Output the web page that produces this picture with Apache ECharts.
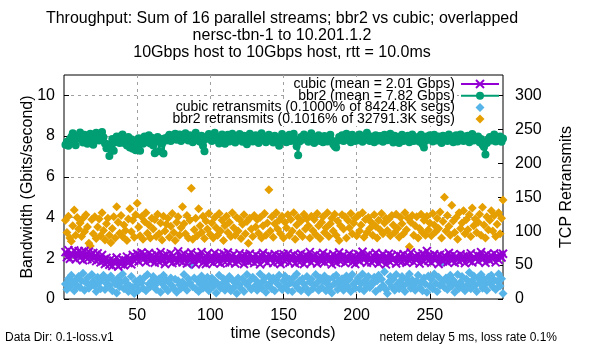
<!DOCTYPE html>
<html><head><meta charset="utf-8">
<script src="https://cdn.jsdelivr.net/npm/echarts@6/dist/echarts.min.js"></script>
<style>html,body{margin:0;padding:0;background:#fff}#c{width:600px;height:350px}</style>
</head><body><div id="c"></div>
<script>
// Throughput (Gbps), one sample per second
const cubicGbps = [
2.30,2.05,2.40,1.98,2.25,2.12,2.38,1.95,2.22,2.35, 2.02,2.28,1.90,2.36,2.10,1.96,2.32,2.14,1.92,2.26,
2.08,1.86,2.24,1.98,1.80,2.16,1.90,1.72,2.02,1.82, 1.68,1.96,1.62,1.88,1.74,2.04,1.60,1.86,1.70,1.94,
1.66,1.90,2.08,1.76,1.98,1.70,2.16,1.88,2.04,2.22, 1.84,2.10,2.28,1.92,2.18,1.80,2.06,2.26,1.88,2.14,
2.00,1.78,2.20,1.96,1.82,2.30,1.90,2.12,1.72,2.18, 2.04,1.86,2.24,1.76,2.14,1.96,1.82,2.34,1.88,2.10,
1.80,2.22,2.00,1.74,2.16,1.92,2.28,1.84,2.06,1.70, 2.18,1.88,2.08,2.30,1.78,2.02,1.72,2.22,1.96,1.84,
2.12,1.76,2.26,2.00,1.84,2.16,1.74,1.98,2.22,1.80, 2.06,2.28,1.78,2.10,1.88,2.20,1.74,2.02,1.84,2.24,
1.94,2.12,1.72,2.16,1.98,1.82,2.22,1.88,2.08,1.76, 2.18,1.84,2.06,1.70,2.12,2.26,1.88,2.02,1.78,2.16,
1.94,2.10,1.76,2.20,1.98,1.82,2.14,1.72,2.06,2.20, 1.84,2.02,2.24,1.78,2.10,1.92,2.18,1.74,1.98,2.14,
1.80,2.22,2.00,1.72,2.16,1.88,2.06,2.30,1.78,2.10, 1.92,2.18,1.74,2.02,2.14,1.84,2.26,1.80,1.98,2.16,
1.88,2.06,1.70,2.20,1.98,1.78,2.10,2.28,1.84,2.02, 2.16,1.76,2.06,1.88,2.22,1.98,1.80,2.14,1.72,2.02,
2.20,1.84,2.08,2.32,1.92,2.06,1.78,2.18,1.98,1.80, 2.14,1.88,2.26,2.02,1.74,2.10,1.84,2.20,1.98,1.70,
2.06,2.22,1.80,2.14,1.92,2.02,1.74,2.18,1.86,2.10, 1.84,2.20,1.98,1.78,2.14,1.88,2.28,2.02,1.80,2.10,
1.92,2.18,1.74,2.06,2.24,1.84,2.02,2.36,1.88,2.14, 1.78,2.06,2.20,1.92,2.10,1.72,2.18,1.98,1.84,2.14,
2.02,1.80,2.26,2.06,1.88,2.18,1.78,2.10,1.98,1.84, 2.20,1.92,2.10,1.76,2.14,2.02,1.86,2.24,1.80,2.06,
1.98,2.18,1.84,2.10,2.30,1.92,2.06,1.78,2.20,2.02, 1.88,2.14,1.98,2.24,1.80,2.10,1.92,2.18,2.04,2.22
];
const bbr2Gbps = [
7.58,7.72,7.52,7.85,7.96,8.14,7.70,7.55,7.90,8.02, 8.18,7.88,7.68,8.06,7.80,7.62,7.96,8.12,7.74,7.58,
7.92,8.16,8.04,7.78,8.10,8.20,7.94,7.64,7.40,7.60, 7.02,7.48,7.86,7.28,7.70,7.98,7.84,7.66,8.00,8.08,
7.66,7.92,7.54,7.96,7.44,7.84,7.38,7.72,7.30,7.60, 7.90,7.28,7.82,7.62,7.98,7.70,7.88,8.04,7.64,7.92,
7.54,7.16,7.74,7.96,7.26,7.86,7.62,7.14,7.90,7.78, 7.96,8.06,7.76,7.92,8.00,8.12,7.82,7.94,8.08,7.76,
7.88,7.98,8.14,7.84,7.78,8.04,7.94,7.70,7.92,8.16, 7.80,7.96,7.72,8.02,7.52,7.26,7.86,7.98,8.10,7.88,
7.76,8.02,8.16,7.90,7.80,7.64,7.96,8.08,7.82,7.62, 7.92,8.06,7.74,7.94,8.12,7.84,7.68,7.98,7.80,8.10,
7.94,7.72,8.02,7.84,7.60,7.90,8.12,7.96,7.74,7.88, 8.04,7.80,7.66,7.96,8.14,7.82,7.98,7.70,7.90,8.06,
7.78,7.94,7.68,8.02,7.86,7.76,7.52,7.92,8.10,7.80, 7.96,7.70,7.88,8.06,7.76,7.92,8.12,7.82,7.50,7.06,
7.74,7.96,7.82,8.08,7.86,7.98,7.72,7.94,8.14,7.80, 7.66,7.94,7.80,8.04,7.76,7.92,7.70,8.00,7.86,7.74,
7.92,8.06,7.78,7.60,7.50,7.44,7.76,7.96,7.86,8.04, 7.76,7.92,8.12,7.82,7.98,7.70,8.06,7.86,7.76,7.96,
7.80,8.08,7.90,7.72,8.02,7.82,8.16,7.92,7.76,7.98, 7.86,7.70,8.04,7.92,7.78,8.00,7.86,7.72,8.06,7.90,
7.80,7.96,8.12,7.84,7.68,8.02,7.80,7.96,7.66,7.92, 8.06,7.76,7.92,7.82,8.02,7.70,7.88,8.08,7.76,7.92,
7.80,7.96,7.72,8.06,7.60,7.44,7.76,7.98,7.84,8.04, 7.88,7.74,8.06,7.92,7.78,7.98,7.82,7.66,8.02,7.86,
7.92,7.76,8.08,7.86,7.98,7.70,7.82,8.04,7.74,7.92, 8.08,7.86,7.76,7.98,7.82,8.02,7.70,7.88,8.10,7.78,
7.94,7.82,7.98,7.70,7.86,7.58,7.46,7.10,7.66,7.84, 7.96,7.78,7.92,8.08,7.74,7.90,7.84,7.98,7.72,7.88
];
// TCP retransmits per second (right axis)
const cubicRetrans = [
22,14,30,18,35,25,12,28,20,33, 17,27,38,13,24,31,16,21,36,26,
19,11,32,24,15,29,35,14,23,30, 20,34,12,27,22,9,31,18,25,37,
15,28,23,11,19,33,17,8,26,21, 13,30,24,16,32,12,36,22,18,27,
33,20,14,26,30,10,23,35,17,28, 12,24,31,19,15,29,10,27,21,16,
25,36,20,13,30,24,50,18,31,15, 28,11,22,34,16,26,19,32,12,24,
31,18,27,9,23,35,16,22,30,13, 26,19,33,12,28,17,24,8,31,21,
15,30,11,24,36,19,27,14,32,18, 28,13,22,37,16,26,31,10,20,33,
24,15,31,12,28,22,35,18,14,27, 34,19,13,29,24,11,32,21,37,16,
27,12,30,22,17,33,10,25,29,15, 20,36,24,13,31,17,27,34,12,22,
29,18,9,32,23,35,14,27,19,30, 13,24,34,18,29,11,36,22,16,26,
31,15,23,37,12,28,19,33,17,24, 22,32,11,27,35,16,29,20,40,14,
8,25,33,18,29,13,36,22,15,27, 33,19,11,30,24,37,16,28,21,13,
27,35,17,24,12,31,22,10,34,19, 29,15,37,23,11,32,20,53,26,17,
31,14,24,35,19,28,10,22,36,16, 25,33,18,12,29,21,39,15,27,34,
20,11,31,24,36,16,29,22,13,32, 24,35,18,28,14,26,37,19,30,8
];
const bbr2Retrans = [
116,98,122,90,85,108,131,94,120,103, 112,92,119,99,124,106,82,78,117,96,
121,89,106,118,93,127,101,87,111,119, 94,83,104,121,90,136,113,97,123,92,
109,101,86,118,133,99,116,91,124,141, 106,93,121,88,114,127,97,109,90,119,
103,117,92,125,96,112,87,122,100,110, 119,91,107,126,98,86,113,121,94,105,
136,111,96,123,90,116,163,88,102,119, 93,133,108,98,122,89,115,103,126,95,
112,90,120,105,94,126,100,116,86,108, 122,98,113,92,127,105,94,120,100,117,
89,110,124,96,114,82,119,103,92,123, 106,117,97,120,90,108,126,94,112,161,
100,121,91,111,127,103,116,96,122,90, 113,105,124,94,117,100,127,88,109,120,
97,115,92,125,103,118,108,90,122,101, 117,95,126,108,89,113,121,98,105,127,
92,111,119,100,125,94,115,86,108,124, 103,121,90,116,105,126,96,112,119,93,
123,100,109,127,91,117,98,120,104,113, 94,124,107,90,116,102,126,96,112,119,
101,118,93,123,109,98,125,104,91,120, 111,96,127,102,119,77,113,123,94,108,
121,90,104,125,98,116,94,122,102,112, 93,126,109,99,119,104,128,90,114,150,
100,123,107,94,138,115,98,120,88,127, 104,112,130,96,117,102,124,92,134,108,
118,98,113,125,94,135,109,90,121,102, 116,130,100,123,92,110,127,96,119,146
];
const seriesNames = ['cubic (mean = 2.01 Gbps)', 'bbr2 (mean = 7.82 Gbps)',
  'cubic retransmits (0.1000% of 8424.8K segs)', 'bbr2 retransmits (0.1016% of 32791.3K segs)'];
const titleLines = ['Throughput: Sum of 16 parallel streams; bbr2 vs cubic; overlapped',
  'nersc-tbn-1 to 10.201.1.2', '10Gbps host to 10Gbps host, rtt = 10.0ms'];
const xTickStep = 50, yTickStep = 2, y2TickStep = 50;

const FONT = '"Liberation Sans", Arial, sans-serif';
const C_CUBIC = '#9400d3', C_BBR2 = '#009e73', C_CRET = '#56b4e9', C_BRET = '#e69f00';
const pairs = arr => arr.map((v, i) => [i + 1, v]);
const X_PATH = 'path://M0,0L10,10M10,0L0,10';

const chart = echarts.init(document.getElementById('c'), null, {renderer: 'canvas'});

const graphics = [];
titleLines.forEach((t, i) => graphics.push({
  type: 'text', x: 282, y: 19 + i * 17, z: 10,
  style: {text: t, textAlign: 'center', textVerticalAlign: 'middle', font: '16px ' + FONT, fill: '#000'}
}));
graphics.push({type: 'text', x: 28, y: 187, rotation: Math.PI / 2, z: 10,
  style: {text: 'Bandwidth (Gbits/second)', textAlign: 'center', textVerticalAlign: 'middle', font: '16px ' + FONT, fill: '#000'}});
graphics.push({type: 'text', x: 567, y: 187, rotation: Math.PI / 2, z: 10,
  style: {text: 'TCP Retransmits', textAlign: 'center', textVerticalAlign: 'middle', font: '16px ' + FONT, fill: '#000'}});
graphics.push({type: 'text', x: 283, y: 334, z: 10,
  style: {text: 'time (seconds)', textAlign: 'center', textVerticalAlign: 'middle', font: '16px ' + FONT, fill: '#000'}});
graphics.push({type: 'text', x: 5, y: 338, z: 10,
  style: {text: 'Data Dir: 0.1-loss.v1', textAlign: 'left', textVerticalAlign: 'middle', font: '12px ' + FONT, fill: '#000'}});
graphics.push({type: 'text', x: 557, y: 338, z: 10,
  style: {text: 'netem delay 5 ms, loss rate 0.1%', textAlign: 'right', textVerticalAlign: 'middle', font: '12px ' + FONT, fill: '#000'}});

// legend (key): white backing behind the key texts hides the grid lines, as in the original
const keyY = [84, 95.7, 107.4, 119.1];
const sx0 = 461, sx1 = 499, sxm = 480;
graphics.push({type: 'rect', z: 18, shape: {x: 284, y: 77, width: 173, height: 24}, style: {fill: '#fff'}});
graphics.push({type: 'rect', z: 18, shape: {x: 171, y: 101, width: 286, height: 25}, style: {fill: '#fff'}});
seriesNames.forEach((n, i) => graphics.push({type: 'text', x: 455, y: keyY[i], z: 20,
  style: {text: n, textAlign: 'right', textVerticalAlign: 'middle', font: '14px ' + FONT, fill: '#000'}}));
graphics.push({type: 'line', z: 30, shape: {x1: sx0, y1: keyY[0], x2: sx1, y2: keyY[0]}, style: {stroke: C_CUBIC, lineWidth: 2}});
graphics.push({type: 'line', z: 30, shape: {x1: sxm - 4, y1: keyY[0] - 4, x2: sxm + 4, y2: keyY[0] + 4}, style: {stroke: C_CUBIC, lineWidth: 2}});
graphics.push({type: 'line', z: 30, shape: {x1: sxm - 4, y1: keyY[0] + 4, x2: sxm + 4, y2: keyY[0] - 4}, style: {stroke: C_CUBIC, lineWidth: 2}});
graphics.push({type: 'line', z: 30, shape: {x1: sx0, y1: keyY[1], x2: sx1, y2: keyY[1]}, style: {stroke: C_BBR2, lineWidth: 2}});
graphics.push({type: 'circle', z: 30, shape: {cx: sxm, cy: keyY[1], r: 4}, style: {fill: C_BBR2}});
graphics.push({type: 'polygon', z: 30, shape: {points: [[sxm, keyY[2] - 4.5], [sxm + 4.5, keyY[2]], [sxm, keyY[2] + 4.5], [sxm - 4.5, keyY[2]]]}, style: {fill: C_CRET}});
graphics.push({type: 'polygon', z: 30, shape: {points: [[sxm, keyY[3] - 4.5], [sxm + 4.5, keyY[3]], [sxm, keyY[3] + 4.5], [sxm - 4.5, keyY[3]]]}, style: {fill: C_BRET}});

const gridLine = {show: true, showMinLine: false, showMaxLine: false, lineStyle: {color: '#a0a0a0', width: 1, type: [3, 4]}};
const tick = {show: true, inside: true, length: 5, lineStyle: {color: '#000', width: 1}};

chart.setOption({
  animation: false,
  backgroundColor: '#fff',
  textStyle: {fontFamily: FONT},
  grid: {left: 64, right: 97, top: 75, bottom: 51, show: true, borderColor: '#000', borderWidth: 1, backgroundColor: 'transparent'},
  xAxis: {type: 'value', min: 0, max: 300, interval: xTickStep,
    axisLine: {show: false}, axisTick: tick,
    axisLabel: {showMinLabel: false, showMaxLabel: false, color: '#000', fontSize: 16, margin: 9, fontFamily: FONT},
    splitLine: gridLine},
  yAxis: [
    {type: 'value', min: 0, max: 11, interval: yTickStep, position: 'left',
      axisLine: {show: false}, axisTick: tick,
      axisLabel: {showMaxLabel: false, color: '#000', fontSize: 16, margin: 9, fontFamily: FONT},
      splitLine: gridLine},
    {type: 'value', min: 0, max: 330, interval: y2TickStep, position: 'right',
      axisLine: {show: false}, axisTick: tick,
      axisLabel: {showMaxLabel: false, color: '#000', fontSize: 16, margin: 12, fontFamily: FONT},
      splitLine: {show: false}}
  ],
  series: [
    {name: seriesNames[0], type: 'line', yAxisIndex: 0, data: pairs(cubicGbps),
      symbol: X_PATH, symbolSize: 8, showAllSymbol: true, silent: true,
      lineStyle: {color: C_CUBIC, width: 2},
      itemStyle: {color: C_CUBIC, borderColor: C_CUBIC, borderWidth: 2}},
    {name: seriesNames[1], type: 'line', yAxisIndex: 0, data: pairs(bbr2Gbps),
      symbol: 'circle', symbolSize: 8, showAllSymbol: true, silent: true,
      lineStyle: {color: C_BBR2, width: 2},
      itemStyle: {color: C_BBR2, borderWidth: 0}},
    {name: seriesNames[2], type: 'scatter', yAxisIndex: 1, data: pairs(cubicRetrans),
      symbol: 'diamond', symbolSize: 9, silent: true, itemStyle: {color: C_CRET, opacity: 1}},
    {name: seriesNames[3], type: 'scatter', yAxisIndex: 1, data: pairs(bbr2Retrans),
      symbol: 'diamond', symbolSize: 9, silent: true, itemStyle: {color: C_BRET, opacity: 1}}
  ],
  graphic: graphics
});
</script></body></html>
